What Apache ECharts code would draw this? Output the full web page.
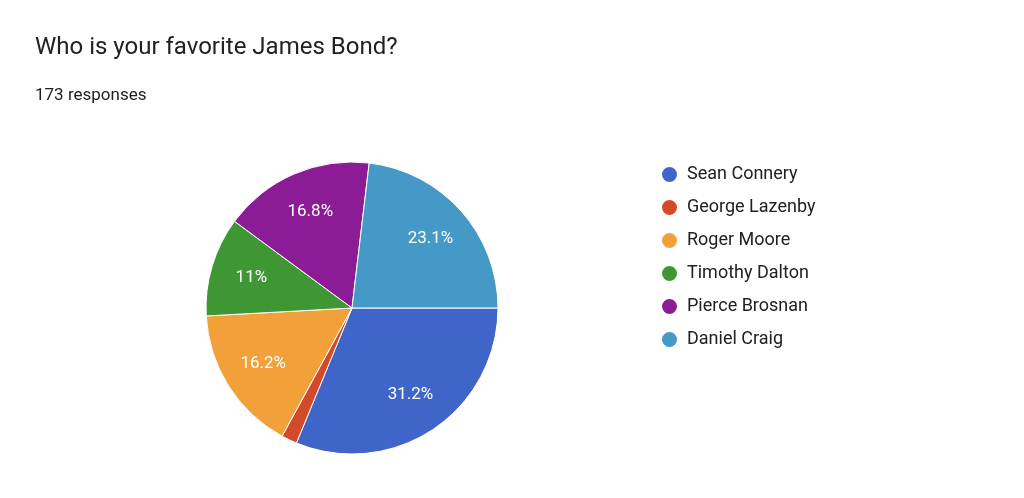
<!DOCTYPE html>
<html>
<head>
<meta charset="utf-8">
<script src="https://cdn.jsdelivr.net/npm/echarts@6/dist/echarts.min.js"></script>
<style>
  html, body { margin: 0; padding: 0; background: #fff; }
  #chart { width: 1024px; height: 498px; }
</style>
</head>
<body>
<div id="chart"></div>
<script>
const names = ['Sean Connery', 'George Lazenby', 'Roger Moore', 'Timothy Dalton', 'Pierce Brosnan', 'Daniel Craig'];
const counts = [54, 3, 28, 19, 29, 40];
const colors = ['#4065c8', '#d24a2a', '#f2a13a', '#3f9733', '#8c1c96', '#4499c6'];

const total = counts.reduce((a, b) => a + b, 0);
const data = names.map((n, i) => ({ name: n, value: counts[i], itemStyle: { color: colors[i] } }));

function pct(v) {
  let s = (v / total * 100).toFixed(1);
  if (s.endsWith('.0')) s = s.slice(0, -2);
  return s + '%';
}

const chart = echarts.init(document.getElementById('chart'));
chart.setOption({
  animation: false,
  title: [
    { text: 'Who is your favorite James Bond?', left: 30, top: 31,
      textStyle: { fontFamily: 'Roboto', fontSize: 24, fontWeight: 'normal', color: '#202124' } },
    { text: total + ' responses', left: 30, top: 82,
      textStyle: { fontFamily: 'Roboto', fontSize: 17, fontWeight: 'normal', color: '#202124' } }
  ],
  legend: {
    orient: 'vertical', left: 655, top: 160,
    icon: 'circle', itemWidth: 17, itemHeight: 17, itemGap: 14,
    selectedMode: false,
    data: names,
    textStyle: { fontFamily: 'Roboto', fontSize: 18, color: '#202124', padding: [0, 0, 0, 4] }
  },
  series: [
    {
      type: 'pie', center: [352, 308], radius: [0, 146],
      startAngle: 0, clockwise: true, silent: true,
      itemStyle: { borderColor: '#fff', borderWidth: 1 },
      label: { show: false }, labelLine: { show: false },
      data: data
    },
    {
      type: 'pie', center: [352, 308], radius: [58, 146],
      startAngle: 0, clockwise: true, silent: true,
      itemStyle: { color: 'rgba(0,0,0,0)' },
      labelLine: { show: false },
      label: {
        show: true, position: 'inside', color: '#fff',
        fontFamily: 'Roboto', fontSize: 17,
        formatter: p => p.value / total < 0.05 ? '' : pct(p.value)
      },
      data: names.map((n, i) => ({ name: n + ' ', value: counts[i] }))
    }
  ]
});
</script>
</body>
</html>
